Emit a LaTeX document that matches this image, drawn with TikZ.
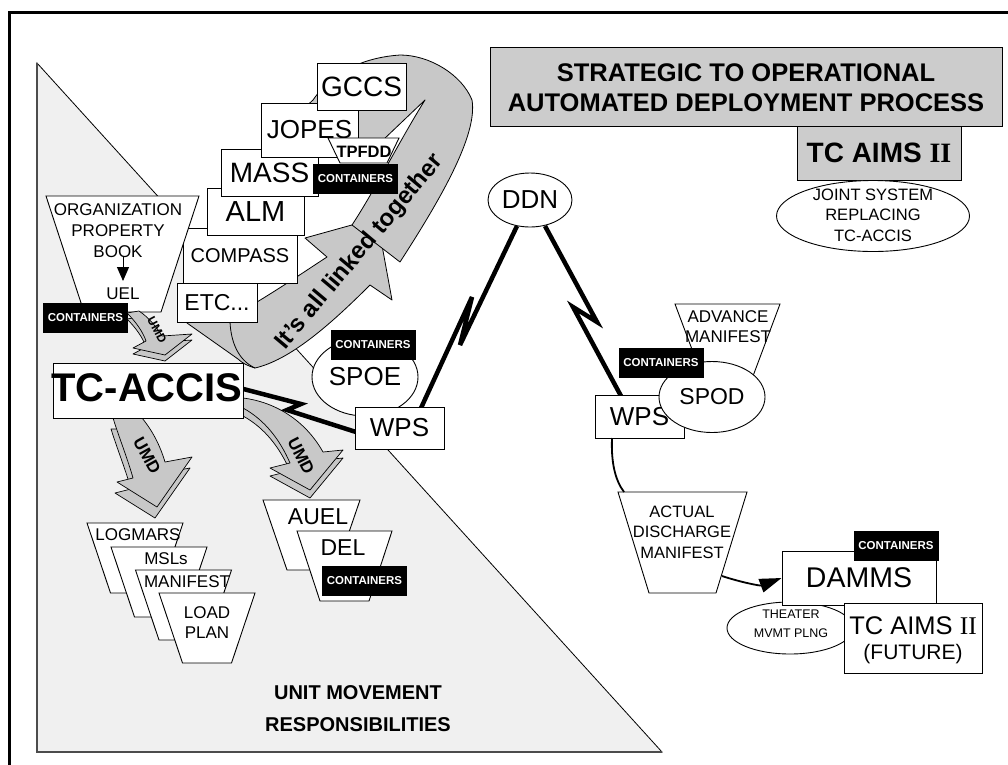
\documentclass[tikz,border=0pt]{standalone}
\usepackage{fontspec}
\setmainfont{Liberation Sans}
\newfontfamily\timesf{Liberation Serif}
\usetikzlibrary{arrows.meta,shapes.geometric}
\definecolor{trifill}{RGB}{240,240,240}
\definecolor{boxgray}{RGB}{204,204,204}
\definecolor{arrgray}{RGB}{200,200,200}
\newcommand\fz[2]{\fontsize{#1}{#2}\selectfont}
\newcommand\trapz[5]{\filldraw[fill=white,draw=black,line width=0.9pt] ({#1-#3/2},#2) -- ({#1+#3/2},#2) -- ({#1+#4/2},{#2+#5}) -- ({#1-#4/2},{#2+#5}) -- cycle;}
\tikzset{
  box/.style={draw=black,fill=white,line width=0.9pt,inner sep=0},
  txt/.style={inner sep=0,align=center},
  cont/.style={fill=black,text=white,inner sep=0,minimum width=85,minimum height=30,font=\bfseries\fz{11.5}{12}},
  ell/.style={draw=black,fill=white,line width=0.9pt,ellipse,inner sep=0},
  bolt/.style={line width=4.5pt,line join=miter,miter limit=4},
  band/.style={fill=arrgray,draw=black,line width=0.8pt,line join=round},
  umd/.style={fill=arrgray,draw=black,line width=0.7pt,line join=round},
}
\begin{document}
\begin{tikzpicture}[x=1pt,y=-1pt]
\useasboundingbox (0,0) rectangle (1008,764);
\fill[white] (0,0) rectangle (1008,764);
% frame
\draw[line width=3pt] (9.5,780) -- (9.5,12) -- (1020,12);
% unit movement region
\filldraw[fill=trifill,draw=black,line width=0.8pt] (37,63) -- (662,752) -- (37,752) -- cycle;
\draw[line width=1.6pt,black!70] (37,63) -- (37,752) -- (662,752);
\node[txt,font=\bfseries\fz{20}{32}] (umr) at (358,709) {UNIT MOVEMENT\\RESPONSIBILITIES};
% big arrow: front part
\filldraw[band]
  (195,290) -- (257,302)
  .. controls (285,285) and (310,268) .. (327,257)
  -- (305,238) -- (377,218) -- (392,300) -- (370,285)
  .. controls (330,325) and (290,360) .. (255,368)
  .. controls (248,366) and (242,363) .. (238,359)
  -- (187,323) -- (187,295) -- cycle;
\draw[line width=0.8pt] (230,322) .. controls (231,342) and (238,360) .. (255,368);
% big arrow: back loop
\filldraw[band]
  (300,112) -- (313,100)
  .. controls (335,68) and (370,57) .. (400,55)
  .. controls (430,55) and (462,75) .. (472,100)
  .. controls (478,135) and (440,200) .. (400,262)
  -- (352,225)
  .. controls (375,190) and (400,140) .. (425,100)
  -- (383,140) -- (350,140) -- cycle;
\node[txt,font=\bfseries\fz{24}{24},rotate=50] (linked) at (360,252) {It’s all linked together};
% stack of systems
\node[box,minimum width=80,minimum height=39] (etc) at (217,302.5) {\fz{23}{23}ETC...};
\node[box,minimum width=114,minimum height=55] (compass) at (240,255.5) {\fz{20}{20}COMPASS};
\node[box,minimum width=97,minimum height=47] (alm) at (255.5,211.5) {\fz{29}{29}ALM};
\node[box,minimum width=97,minimum height=47] (mass) at (269.5,172.5) {\fz{28}{28}MASS};
\node[box,minimum width=97,minimum height=54] (jopes) at (309.5,130) {\fz{26}{26}JOPES};
\node[box,minimum width=89,minimum height=47] (gccs) at (361.5,86.5) {\fz{28}{28}GCCS};
\trapz{363.5}{138}{71}{47}{25}
\node[txt,font=\bfseries\fz{16.5}{17}] (tpfdd) at (364,152) {TPFDD};
\node[cont] (c1) at (355.5,179) {CONTAINERS};
% organization property book
\trapz{122.5}{196}{153}{77}{116}
\node[txt,font=\fz{17}{21}] (opb) at (118,231) {ORGANIZATION\\PROPERTY\\BOOK};
\node[txt,font=\fz{17}{17}] (uel) at (123,294) {UEL};
\draw[line width=1pt,-{Triangle[length=14pt,width=12pt]}] (123,256) -- (123,281);
\node[cont] (c2) at (85.5,318) {CONTAINERS};
% UMD arrows (3D: side face then top face)
\filldraw[umd,shift={(0,6)}] (127,313) .. controls (136,322) and (143,332) .. (146,341) -- (133,348) -- (165,355) -- (192,334) -- (162,336) .. controls (156,326) and (148,317) .. (139,311) -- cycle;
\filldraw[umd] (127,313) .. controls (136,322) and (143,332) .. (146,341) -- (133,348) -- (165,355) -- (192,334) -- (162,336) .. controls (156,326) and (148,317) .. (139,311) -- cycle;
\node[txt,font=\bfseries\fz{12}{12},rotate=-62] (umd1) at (157,330) {UMD};
\filldraw[umd,shift={(-2,11)}] (113,418) .. controls (120,440) and (128,460) .. (133,478) -- (117,482) -- (157,507) -- (192,457) -- (165,462) .. controls (160,445) and (152,430) .. (142,418) -- cycle;
\filldraw[umd] (113,418) .. controls (120,440) and (128,460) .. (133,478) -- (117,482) -- (157,507) -- (192,457) -- (165,462) .. controls (160,445) and (152,430) .. (142,418) -- cycle;
\node[txt,font=\bfseries\fz{17}{17},rotate=-61] (umd2) at (147,456) {UMD};
\filldraw[umd,shift={(0,8)}] (243,398) .. controls (275,402) and (305,420) .. (323,452) -- (343,450) -- (310,490) -- (270,468) -- (290,463) .. controls (280,440) and (265,420) .. (243,408) -- cycle;
\filldraw[umd] (243,398) .. controls (275,402) and (305,420) .. (323,452) -- (343,450) -- (310,490) -- (270,468) -- (290,463) .. controls (280,440) and (265,420) .. (243,408) -- cycle;
\node[txt,font=\bfseries\fz{17}{17},rotate=-63] (umd3) at (301,456) {UMD};
% TC-ACCIS
\node[box,minimum width=190,minimum height=55] (accis) at (148,390.5) {};
\node[txt,font=\bfseries\fz{40}{40}] (accist) at (147,388) {TC-ACCIS};
% bottom-left trapezoids
\trapz{135}{523}{96}{49}{70}
\node[txt,font=\fz{17}{17}] (logmars) at (138,535) {LOGMARS};
\trapz{159}{547}{96}{49}{70}
\node[txt,font=\fz{17}{17}] (msls) at (166,559) {MSLs};
\trapz{183.5}{570}{96}{49}{70}
\node[txt,font=\fz{17}{17}] (manifest) at (187,582) {MANIFEST};
\trapz{207}{593}{96}{49}{70}
\node[txt,font=\fz{17}{20}] (loadplan) at (207,623) {LOAD\\PLAN};
\trapz{311.5}{500}{97}{49}{70}
\node[txt,font=\fz{23}{23}] (auel) at (318,517) {AUEL};
\trapz{344.5}{531}{95}{49}{70}
\node[txt,font=\fz{23}{23}] (del) at (343,548) {DEL};
\node[cont] (c3) at (364.5,580.5) {CONTAINERS};
% SPOE and WPS
\node[ell,minimum width=106,minimum height=78] (spoe) at (365,377) {\fz{26}{26}SPOE};
\node[cont] (c4) at (373,345) {CONTAINERS};
% DDN
\node[ell,minimum width=84,minimum height=54] (ddn) at (530,200) {\fz{26}{26}DDN};
% links
\coordinate (b1a) at (301,404); \coordinate (b1b) at (287,410);
\draw[bolt] (accis.east |- 0,389) -- (b1a) -- (b1b) -- (356,432);
\coordinate (b2a) at (460,345); \coordinate (b2b) at (472,297);
\draw[bolt] (517,226) -- (b2a) -- (b2b) -- (421,408);
\coordinate (b3a) at (597,322); \coordinate (b3b) at (573,307);
\draw[bolt] (545,226) -- (b3a) -- (b3b) -- (621,396);
\node[box,minimum width=89,minimum height=42] (wps1) at (399.5,428) {\fz{26}{26}WPS};
% right side
\trapz{727.5}{304}{105}{45}{80}
\node[txt,font=\fz{17}{20}] (adv) at (728,327) {ADVANCE\\MANIFEST};
\node[box,minimum width=89,minimum height=43] (wps2) at (639.5,416.5) {\fz{26}{26}WPS};
\node[ell,minimum width=106,minimum height=71] (spod) at (712,397) {\fz{23}{23}SPOD};
\node[cont] (c5) at (661,362.5) {CONTAINERS};
\trapz{682.5}{492}{129}{67}{101}
\node[txt,font=\fz{16.5}{20.5}] (adm) at (682,532) {ACTUAL\\DISCHARGE\\MANIFEST};
\draw[line width=1.8pt] (612,438) .. controls (611,462) and (615,480) .. (624,492);
\node[ell,minimum width=126,minimum height=52] (theater) at (790,628) {};
\node[txt,font=\fz{12.5}{19}] (theatert) at (791,623.5) {THEATER\\MVMT PLNG};
\node[box,minimum width=154,minimum height=54] (damms) at (859,578) {\fz{28.5}{28.5}DAMMS};
\node[box,minimum width=138,minimum height=70] (aims2) at (913,638) {};
\node[txt,font=\fz{21}{25}] (aims2t) at (913,640) {\fz{25.5}{25.5}TC AIMS {\timesf II}\\(FUTURE)};
\node[cont] (c6) at (896,546) {CONTAINERS};
\draw[line width=1.8pt,-{Triangle[length=22pt,width=14pt]}] (722,576) .. controls (740,582) and (760,586) .. (damms.west);
% title
\node[draw=black,fill=boxgray,line width=0.9pt,minimum width=512,minimum height=79,inner sep=0] (title) at (746,86.5) {};
\node[txt,font=\bfseries\fz{25.5}{30}] (titlet) at (746,88) {STRATEGIC TO OPERATIONAL\\AUTOMATED DEPLOYMENT PROCESS};
\node[draw=black,fill=boxgray,line width=0.9pt,minimum width=164,minimum height=54,inner sep=0] (aims) at (879,153) {\bfseries\fz{28}{28}TC AIMS {\timesf\bfseries II}};
\node[ell,minimum width=193,minimum height=71] (joint) at (873,216) {};
\node[txt,font=\fz{16.5}{20.5}] (jointt) at (873,215) {JOINT SYSTEM\\REPLACING\\TC-ACCIS};
\end{tikzpicture}
\end{document}
